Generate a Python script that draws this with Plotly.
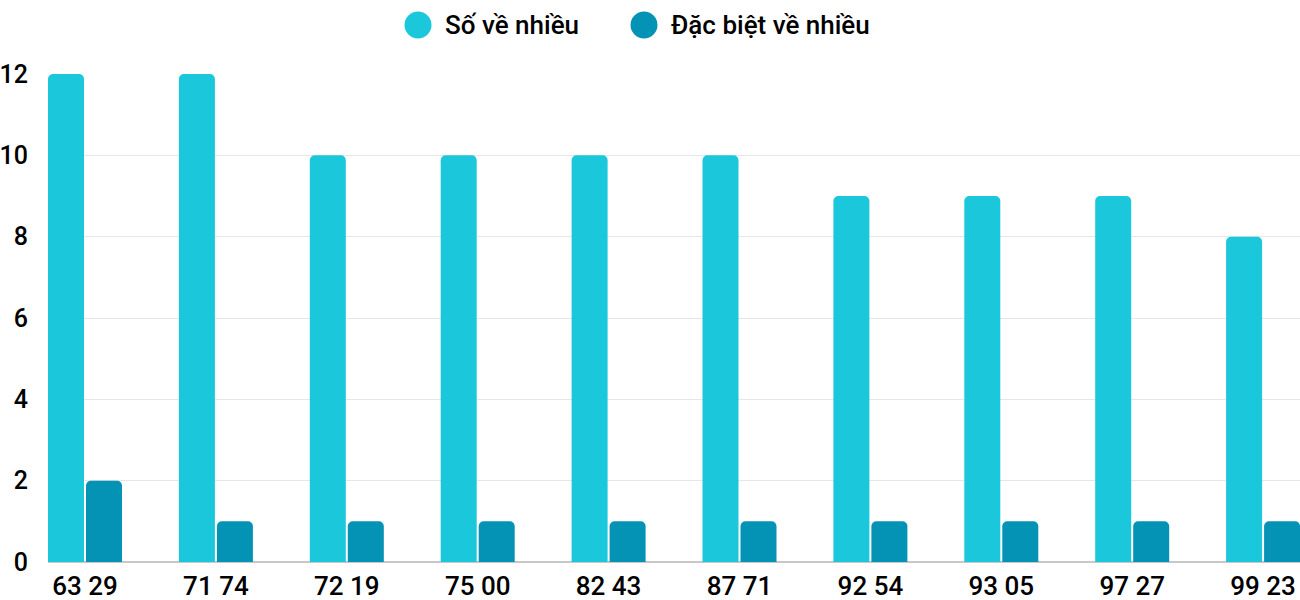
import plotly.graph_objects as go

categories = ["63 29", "71 74", "72 19", "75 00", "82 43", "87 71", "92 54", "93 05", "97 27", "99 23"]
so_ve_nhieu = [12, 12, 10, 10, 10, 10, 9, 9, 9, 8]
dac_biet = [2, 1, 1, 1, 1, 1, 1, 1, 1, 1]
series_names = ["Số về nhiều", "Đặc biệt về nhiều"]
colors = ["#1bc8db", "#0492b5"]

W, H = 1300, 600
left, right, top, bottom = 48, 0, 74, 38
plot_w = W - left - right
plot_h = H - top - bottom
step = 130.9  # px per category
half_group = 37 / step
bar_w = 36 / step
x0 = -half_group
x1 = x0 + plot_w / step

xs = list(range(len(categories)))

fig = go.Figure()
fig.add_trace(go.Bar(x=xs, y=so_ve_nhieu, name=series_names[0], marker_color=colors[0],
                     width=bar_w, offset=-half_group, showlegend=False,
                     marker_line_width=0))
fig.add_trace(go.Bar(x=xs, y=dac_biet, name=series_names[1], marker_color=colors[1],
                     width=bar_w, offset=half_group - bar_w, showlegend=False,
                     marker_line_width=0))

font_family = "Roboto, sans-serif"
txt_font = dict(family=font_family, size=26, color="#000000", weight=500)
ytick_font = dict(family=font_family, size=25, color="#000000", weight=500)

# manual legend (circle markers)
legend_items = [(418, 445), (644, 671)]
for (cx, tx), name, col in zip(legend_items, series_names, colors):
    r = 13.5
    cy = 25
    fig.add_shape(type="circle", xref="paper", yref="paper",
                  x0=(cx - r - left) / plot_w, x1=(cx + r - left) / plot_w,
                  y0=(H - bottom - cy - r) / plot_h, y1=(H - bottom - cy + r) / plot_h,
                  fillcolor=col, line_width=0, layer="above")
    fig.add_annotation(xref="paper", yref="paper",
                       x=(tx - left) / plot_w, y=(H - bottom - cy) / plot_h,
                       xanchor="left", yanchor="middle", showarrow=False,
                       text=name, font=txt_font, xshift=-2)

fig.update_layout(
    width=W, height=H,
    margin=dict(l=left, r=right, t=top, b=bottom, pad=0, autoexpand=False),
    paper_bgcolor="white", plot_bgcolor="white",
    barmode="overlay",
    barcornerradius=5,
    font=txt_font,
    xaxis=dict(range=[x0, x1], tickmode="array", tickvals=xs, ticktext=categories,
               showgrid=False, zeroline=False, showline=False, ticks="",
               ticklabelstandoff=6, automargin=False,
               tickfont=txt_font, fixedrange=True),
    yaxis=dict(range=[0, 12], dtick=2, tick0=0, showgrid=True, gridcolor="#e6e6e6",
               gridwidth=1, zeroline=True, zerolinecolor="#c8c8c8", zerolinewidth=2,
               showline=False, ticks="", ticklabelstandoff=19, automargin=False,
               tickfont=ytick_font, fixedrange=True),
)

fig.write_html("out.html")
